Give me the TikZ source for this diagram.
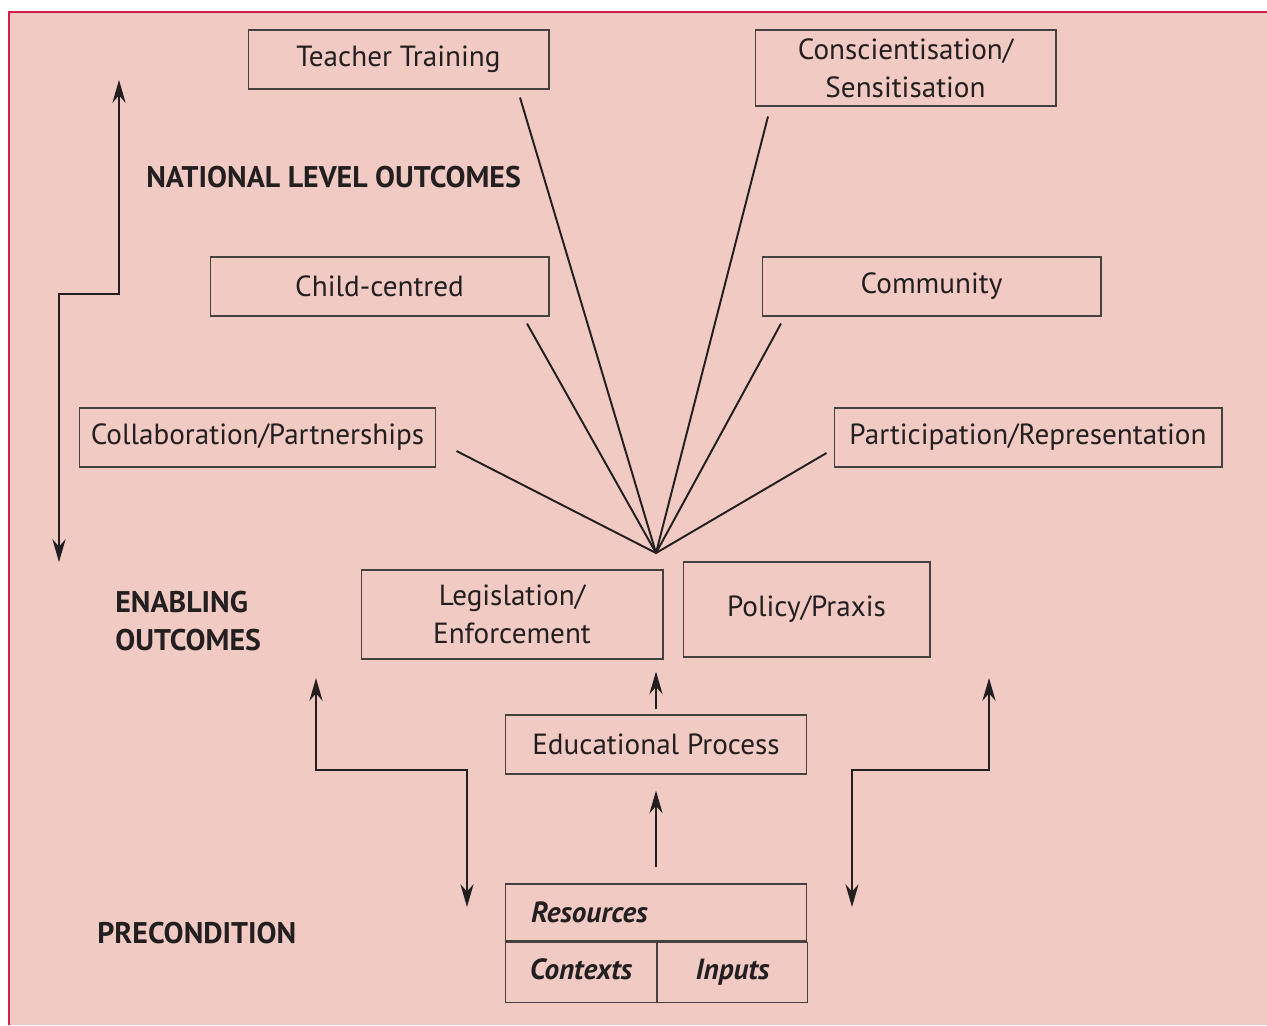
\documentclass[tikz,border=0pt]{standalone}
\usepackage{fontspec}
\setmainfont{PT Sans}
\usetikzlibrary{arrows.meta,calc}
\definecolor{rosebg}{RGB}{240,202,195}
\definecolor{framered}{RGB}{214,28,68}
\definecolor{ink}{RGB}{35,31,32}

\begin{document}
\begin{tikzpicture}[x=0.02cm, y=-0.02cm,
    >={Stealth[length=13pt,width=7.5pt]},
    every node/.style={font=\fontsize{16.6}{21.5}\selectfont, text=ink},
    box/.style={draw=ink!85, line width=0.6pt, minimum height=1.18cm, inner sep=2pt, align=center},
    cell/.style={box, minimum height=1.2cm, anchor=north west, text height=2.3ex, text depth=0.5ex, font=\fontsize{16.6}{21.5}\selectfont\bfseries\itshape},
    heading/.style={font=\fontsize{17}{21.5}\selectfont\bfseries, align=left, anchor=west, inner sep=0pt},
    spoke/.style={draw=ink, line width=1.1pt},
    link/.style={draw=ink, line width=0.8pt}]
	    \useasboundingbox (0,0) rectangle (1267,1025);
	    \fill[rosebg] (9,12) rectangle (1267,1025);
	    \draw[framered, line width=1.2pt] (9,1025) -- (9,12) -- (1267,12);

	    \node[box, minimum width=6.02cm] (tt) at (398.5,59.5) {Teacher Training};
	    \node[box, minimum width=6.02cm, minimum height=1.52cm] (cs) at (905.5,68) {Conscientisation/\\Sensitisation};
	    \node[box, minimum width=6.78cm] (cc) at (379.5,286.5) {Child-centred};
	    \node[box, minimum width=6.78cm] (cm) at (931.5,286.5) {Community};
	    \node[box, minimum width=7.14cm] (cp) at (257.5,437.5) {Collaboration/Partnerships};
	    \node[box, minimum width=7.76cm] (pr) at (1028,437.5) {Participation/Representation};
	    \node[box, minimum width=6.04cm, minimum height=1.78cm] (le) at (512,614.5) {Legislation/\\Enforcement};
	    \node[box, minimum width=4.94cm, minimum height=1.90cm] (pp) at (806.5,609.5) {Policy/Praxis};
	    \node[box, minimum width=6.02cm] (ep) at (656,744.5) {Educational Process};

	    \node[box, minimum width=6.02cm, minimum height=1.14cm] (res) at (656,912.5) {};
	    \node[anchor=west, font=\fontsize{16.6}{21.5}\selectfont\bfseries\itshape] (restxt) at ([xshift=0.4cm]res.west) {Resources};
	    \node[cell, minimum width=3.02cm] (ctx) at (res.south west) {Contexts};
	    \node[cell, minimum width=3.0cm] (inp) at (ctx.north east) {Inputs};

	    \node[heading] (nat) at (146,177) {NATIONAL LEVEL OUTCOMES};
	    \node[heading] (enb) at (115,621) {ENABLING\\OUTCOMES};
	    \node[heading] (pre) at (97,933) {PRECONDITION};

	    \coordinate (hub) at (656,553);
	    \foreach \n/\a/\dx/\dy in {tt/south/121.5/8, cs/south/-137.5/10, cc/south/147.5/7, cm/south/-150.5/7, cp/east/20/13.5, pr/west/-7/15.5}
	    	\draw[spoke] (hub) -- ($(\n.\a)+(\dx,\dy)$);

	    \draw[link, ->, shorten <=0.1cm, shorten >=0.24cm] (ep.north) -- (ep.north |- le.south);
	    \draw[link, ->, shorten <=0.32cm, shorten >=0.32cm] (res.north) -- (ep.south);

	    \coordinate (lvltop) at (119,80);
	    \coordinate (lvlbot) at (59,562);
	    \draw[link, <->] (lvltop) -- ++(0,214) -| (lvlbot);

	    \coordinate (zltop) at (316,678);
	    \coordinate (zlbot) at (467,907);
	    \draw[link, <->] (zltop) -- ++(0,92) -| (zlbot);

	    \coordinate (zrtop) at (989,678);
	    \coordinate (zrbot) at (852,907);
	    \draw[link, <->] (zrtop) -- ++(0,92) -| (zrbot);
\end{tikzpicture}
\end{document}
